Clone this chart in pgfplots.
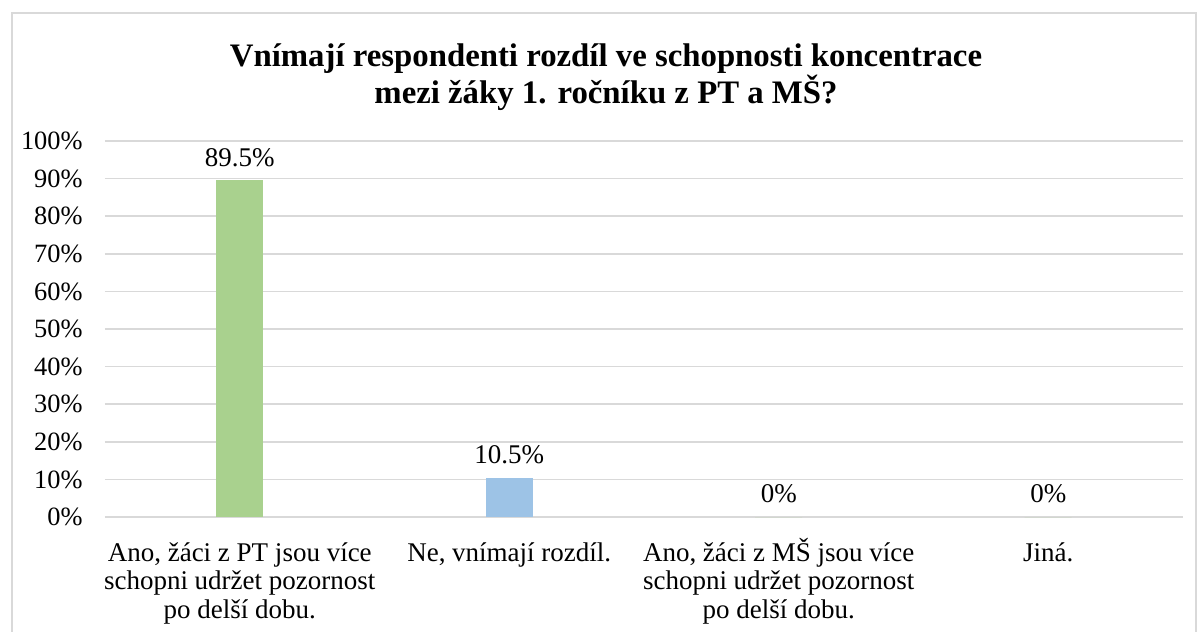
\documentclass[border=0pt]{standalone}
\usepackage{pgfplots}
\pgfplotsset{compat=1.18}
\usepackage{fontspec}
\setmainfont{Liberation Serif}
\definecolor{grn}{HTML}{A9D18E}
\definecolor{blu}{HTML}{9DC3E6}
\definecolor{grd}{HTML}{D9D9D9}
\pgfplotsset{/pgf/number format/assume math mode=true}
\newcommand{\ts}{\rule{0pt}{12.5pt}}
\begin{document}
\begin{tikzpicture}
\useasboundingbox (0,0) rectangle (600.5pt,316pt);
\fill[white] (0,0) rectangle (600.5pt,316pt);
\draw[grd, line width=0.9pt] (6pt,-5pt) -- (6pt,309.5pt) -- (598pt,309.5pt) -- (598pt,-5pt);
\node[align=center, font=\fontsize{16.4}{17}\selectfont\bfseries] at (303pt,277.5pt)
  {Vnímají respondenti rozdíl ve schopnosti koncentrace\\mezi žáky 1. ročníku z PT a MŠ?};
\begin{axis}[
  at={(52.5pt,57.5pt)}, anchor=south west,
  scale only axis, width=539pt, height=188pt,
  ymin=0, ymax=100, xmin=-0.5, xmax=3.5,
  ytick={0,10,...,100},
  xtick={0,1,2,3},
  xticklabels={{\ts Ano, žáci z PT jsou více\\schopni udržet pozornost\\po delší dobu.},
               {\ts Ne, vnímají rozdíl.},
               {\ts Ano, žáci z MŠ jsou více\\schopni udržet pozornost\\po delší dobu.},
               {\ts Jiná.}},
  yticklabel={\pgfmathprintnumber{\tick}\%},
  axis line style={draw=none},
  major tick length=0pt,
  ymajorgrids, grid style={grd, line width=0.75pt},
  yticklabel style={anchor=east, inner sep=0pt, xshift=-11pt, font=\fontsize{13.2}{14.5}\selectfont},
  xticklabel style={anchor=north, align=center, inner sep=0pt, yshift=-9.5pt, font=\fontsize{13.5}{14.25}\selectfont},
  ybar, bar width=23.5pt, bar shift=0pt,
  nodes near coords={\pgfmathprintnumber[fixed,precision=1]{\pgfplotspointmeta}\%},
  every node near coord/.append style={anchor=center, inner sep=0pt, yshift=11.5pt, font=\fontsize{13.5}{14.5}\selectfont, text=black},
]
\addplot[fill=grn, draw=none] coordinates {(0,89.5)};
\addplot[fill=blu, draw=none] coordinates {(1,10.5)};
\addplot[fill=grn, draw=none] coordinates {(2,0)};
\addplot[fill=grn, draw=none] coordinates {(3,0)};
\end{axis}
\end{tikzpicture}
\end{document}
